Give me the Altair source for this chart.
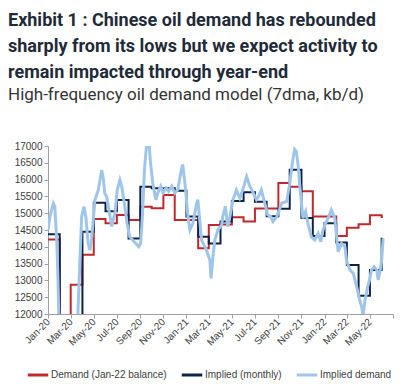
import altair as alt
import pandas as pd

# ---------------- data ----------------
months = [
    "2020-01-01", "2020-02-01", "2020-03-01", "2020-04-01", "2020-05-01", "2020-06-01",
    "2020-07-01", "2020-08-01", "2020-09-01", "2020-10-01", "2020-11-01", "2020-12-01",
    "2021-01-01", "2021-02-01", "2021-03-01", "2021-04-01", "2021-05-01", "2021-06-01",
    "2021-07-01", "2021-08-01", "2021-09-01", "2021-10-01", "2021-11-01", "2021-12-01",
    "2022-01-01", "2022-02-01", "2022-03-01", "2022-04-01", "2022-05-01", "2022-06-01",
]
step_end = "2022-06-04"

demand_balance = [
    14220, 11000, 12870, 13760, 14830, 14700,
    14950, 14800, 15190, 15150, 15540, 14800,
    14800, 13960, 14650, 14660, 14880, 14750,
    15140, 15140, 15900, 15790, 15650, 14900,
    14900, 14320, 14570, 14670, 14940, 14890,
]

implied_monthly = [
    14370, 11000, 11000, 14450, 15310, 15060,
    15390, 14250, 15790, 15740, 15740, 15670,
    14900, 14300, 14100, 14750, 15360, 15620,
    15340, 14910, 15130, 16290, 14860, 14320,
    14700, 14130, 13460, 12540, 13310, 14240,
]

daily_dates = [
    "2020-01-01", "2020-01-06", "2020-01-15", "2020-01-19", "2020-01-24", "2020-01-27",
    "2020-01-30", "2020-02-07", "2020-02-28", "2020-03-15", "2020-03-20", "2020-03-25",
    "2020-03-30", "2020-04-05", "2020-04-10", "2020-04-16", "2020-04-21", "2020-04-25",
    "2020-04-29", "2020-05-04", "2020-05-13", "2020-05-22", "2020-05-26", "2020-05-30",
    "2020-06-04", "2020-06-13", "2020-06-17", "2020-06-26", "2020-07-02", "2020-07-09",
    "2020-07-14", "2020-07-22", "2020-07-28", "2020-08-04", "2020-08-12", "2020-08-20",
    "2020-08-28", "2020-09-02", "2020-09-07", "2020-09-12", "2020-09-18", "2020-09-24",
    "2020-09-28", "2020-10-04", "2020-10-12", "2020-10-17", "2020-10-25", "2020-10-31",
    "2020-11-08", "2020-11-15", "2020-11-23", "2020-12-01", "2020-12-09", "2020-12-17",
    "2020-12-22", "2020-12-28", "2021-01-05", "2021-01-10", "2021-01-18", "2021-01-28",
    "2021-01-31", "2021-02-10", "2021-02-23", "2021-03-04", "2021-03-07", "2021-03-12",
    "2021-03-17", "2021-03-25", "2021-04-04", "2021-04-07", "2021-04-14", "2021-04-20",
    "2021-04-26", "2021-05-04", "2021-05-13", "2021-05-22", "2021-05-30", "2021-06-09",
    "2021-06-18", "2021-06-27", "2021-07-05", "2021-07-11", "2021-07-18", "2021-07-27",
    "2021-08-04", "2021-08-12", "2021-08-18", "2021-08-28", "2021-09-10", "2021-09-23",
    "2021-10-01", "2021-10-09", "2021-10-14", "2021-10-18", "2021-10-23", "2021-10-27",
    "2021-11-01", "2021-11-05", "2021-11-12", "2021-11-18", "2021-11-27", "2021-12-06",
    "2021-12-15", "2021-12-22", "2021-12-28", "2022-01-04", "2022-01-12", "2022-01-19",
    "2022-01-28", "2022-02-02", "2022-02-06", "2022-02-15", "2022-02-24", "2022-02-28",
    "2022-03-09", "2022-03-18", "2022-03-27", "2022-04-04", "2022-04-09", "2022-04-13",
    "2022-04-18", "2022-04-25", "2022-05-01", "2022-05-05", "2022-05-12", "2022-05-19",
    "2022-05-23", "2022-05-28", "2022-06-01", "2022-06-05",
]

implied_demand = [
    14500, 14900, 15295, 15200, 14200, 13200,
    11800, 11000, 10500, 11000, 12000, 13500,
    14900, 15195, 14900, 14104, 13900, 14200,
    14700, 15393, 15690, 16286, 16050, 15590,
    15500, 14900, 14600, 15000, 15690, 15990,
    15790, 15195, 14700, 14300, 14200, 14100,
    14000, 14100, 15000, 16300, 17100, 17100,
    16500, 15900, 15400, 15600, 15800, 15600,
    15750, 15650, 15800, 15600, 15700, 16200,
    16450, 15900, 14900, 14500, 14700, 15300,
    15400, 14200, 13900, 13600, 13060, 13700,
    14200, 14500, 14650, 14900, 15200, 14600,
    14900, 15400, 15690, 15450, 15700, 16090,
    15790, 15600, 15400, 15500, 15690, 15300,
    14950, 14900, 14750, 14900, 15300, 15350,
    15890, 16580, 16900, 16850, 16450, 15890,
    15300, 14850, 15050, 14700, 14300, 14200,
    14400, 14150, 14500, 14700, 14900, 15095,
    14850, 14300, 13855, 14100, 14000, 13600,
    13310, 13210, 12810, 12420, 12220, 11950,
    12420, 12810, 13060, 13310, 13410, 13310,
    13010, 13310, 13600, 14250,
]

series_names = ["Demand (Jan-22 balance)", "Implied (monthly)", "Implied demand"]
series_colors = ["#c0282d", "#0c2347", "#9fc6ea"]
y_ticks = [12000, 12500, 13000, 13500, 14000, 14500, 15000, 15500, 16000, 16500, 17000]
x_ticks = [
    (2020, 1), (2020, 3), (2020, 5), (2020, 7), (2020, 9), (2020, 11),
    (2021, 1), (2021, 3), (2021, 5), (2021, 7), (2021, 9), (2021, 11),
    (2022, 1), (2022, 3), (2022, 5), (2022, 7),
]

# ---------------- tables ----------------
step_rows = []
for name, vals in ((series_names[0], demand_balance), (series_names[1], implied_monthly)):
    for d, v in zip(months + [step_end], vals + [vals[-1]]):
        step_rows.append({"date": d, "value": v, "series": name})
step_df = pd.DataFrame(step_rows)
daily_df = pd.DataFrame({"date": daily_dates, "value": implied_demand, "series": series_names[2]})

color = alt.Color(
    "series:N",
    scale=alt.Scale(domain=series_names, range=series_colors),
    legend=alt.Legend(
        title=None, orient="none", direction="horizontal", legendX=-22, legendY=217,
        symbolType="stroke", symbolSize=420, symbolStrokeWidth=3, labelOffset=1,
        columnPadding=8, gridAlign="none", padding=0,
        labelFont="Liberation Sans", labelFontSize=10, labelColor="#404040",
    ),
)

x_enc = alt.X(
    "date:T",
    scale=alt.Scale(domain=[alt.DateTime(year=2020, month=1, date=1), alt.DateTime(year=2022, month=7, date=1)]),
    axis=alt.Axis(
        title=None, values=[alt.DateTime(year=y, month=m, date=1) for y, m in x_ticks],
        labelExpr="month(datum.value) == 6 && year(datum.value) == 2022 ? '' : timeFormat(datum.value, '%b-%y')",
        labelAngle=315, labelAlign="right", labelBaseline="middle", labelPadding=2,
        labelOverlap=False, labelBound=False, labelFlush=False,
    ),
)
y_enc = alt.Y(
    "value:Q",
    scale=alt.Scale(domain=[12000, 17000], nice=False, zero=False),
    axis=alt.Axis(title=None, values=y_ticks, format="d", labelOverlap=False),
)

steps = alt.Chart(step_df).mark_line(interpolate="step-after", strokeWidth=2, clip=True).encode(
    x=x_enc, y=y_enc, color=color, order=alt.Order("date:T")
)
daily = alt.Chart(daily_df).mark_line(strokeWidth=3, clip=True).encode(
    x=x_enc, y=y_enc, color=color
)

chart = alt.layer(steps, daily).properties(
    width=345, height=168,
    padding={"left": 40, "top": 138, "right": 8, "bottom": 68},
    autosize=alt.AutoSizeParams(type="none"),
    title=alt.TitleParams(
        text=["Exhibit 1 : Chinese oil demand has rebounded",
              "sharply from its lows but we expect activity to",
              "remain impacted through year-end"],
        subtitle="High-frequency oil demand model (7dma, kb/d)",
        anchor="start", frame="group", dx=-40, offset=38,
        font="Roboto", fontSize=18, fontWeight="bold", color="#1f2b38",
        lineHeight=26,
        subtitleFont="Roboto", subtitleFontSize=17, subtitleColor="#333333", subtitlePadding=5,
    ),
).configure_view(stroke=None).configure_axis(
    grid=False, domainColor="#a0a0a0", tickColor="#a0a0a0", tickSize=4,
    labelFont="Liberation Sans", labelFontSize=10, labelColor="#404040",
)

chart.save("out.html", embed_options={"renderer": "svg", "actions": False})
